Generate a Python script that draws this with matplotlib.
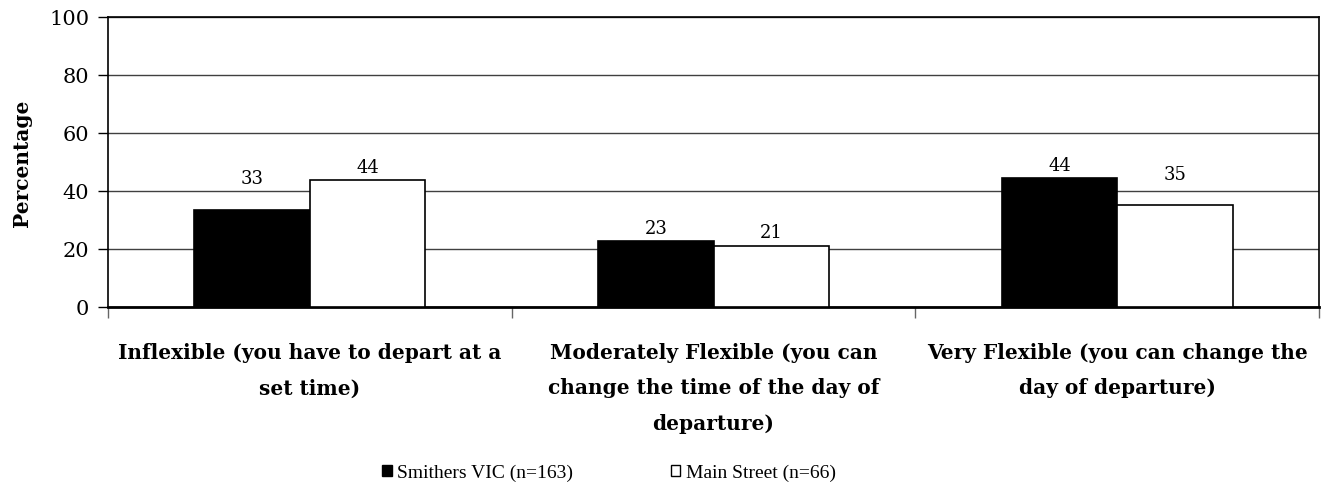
import matplotlib
matplotlib.use("Agg")
import matplotlib.pyplot as plt
import numpy as np
from matplotlib.patches import Patch

categories = ["Inflexible (you have to depart at a\nset time)",
              "Moderately Flexible (you can\nchange the time of the day of\ndeparture)",
              "Very Flexible (you can change the\nday of departure)"]
smithers = [33.3, 22.7, 44.4]
main_street = [43.7, 21.2, 35.1]
series_names = ["Smithers VIC (n=163)", "Main Street (n=66)"]
yticks = [0, 20, 40, 60, 80, 100]

# label offsets above bars (points) to mimic the original placement
smithers_label_off = [17, 3, 3]
main_label_off = [3, 3, 16]

plt.rcParams['font.family'] = ['DejaVu Serif']

fig = plt.figure(figsize=(13.27, 4.89), dpi=100)
ax = fig.add_axes([108/1327, 1 - 308/489, (1319-108)/1327, (308-18)/489])

x = np.arange(len(categories))
w = 0.286
b1 = ax.bar(x - w/2, smithers, w, color='black', edgecolor='black', linewidth=1.2, zorder=3)
b2 = ax.bar(x + w/2, main_street, w, color='white', edgecolor='black', linewidth=1.2, zorder=3)

for bars, vals, offs in ((b1, smithers, smithers_label_off), (b2, main_street, main_label_off)):
    for r, v, o in zip(bars, vals, offs):
        ax.annotate(f"{v:.0f}", (r.get_x() + r.get_width()/2, v), xytext=(0, o),
                    textcoords='offset points', ha='center', va='bottom', fontsize=13)

ax.set_xlim(-0.5, 2.5)
ax.set_ylim(0, 100)
ax.set_yticks(yticks)
ax.tick_params(axis='y', labelsize=15, length=7, width=1, direction='out', pad=6.5)
ax.yaxis.grid(True, color='#404040', linewidth=1, zorder=0)
ax.set_xticks(x)
ax.set_xticklabels(categories, fontsize=14.5, fontweight='bold', linespacing=1.98)
ax.tick_params(axis='x', length=0, pad=25)
ax.set_xticks([-0.5, 0.5, 1.5, 2.5], minor=True)
ax.tick_params(axis='x', which='minor', length=8, width=1, color='#666666')
for s in ax.spines.values():
    s.set_linewidth(1.2)
ax.spines['bottom'].set_linewidth(2)
ax.set_ylabel("Percentage", fontsize=14.5, fontweight='bold', labelpad=12)

handles = [Patch(facecolor='black', edgecolor='black'), Patch(facecolor='white', edgecolor='black')]
fig.legend(handles, series_names, loc='center', bbox_to_anchor=(0.459, 0.031), ncol=2,
           frameon=False, prop={'family': 'Liberation Serif', 'size': 14},
           handlelength=0.5, handleheight=0.5, handletextpad=0.3, columnspacing=5)

fig.savefig("out.png", dpi=100)
